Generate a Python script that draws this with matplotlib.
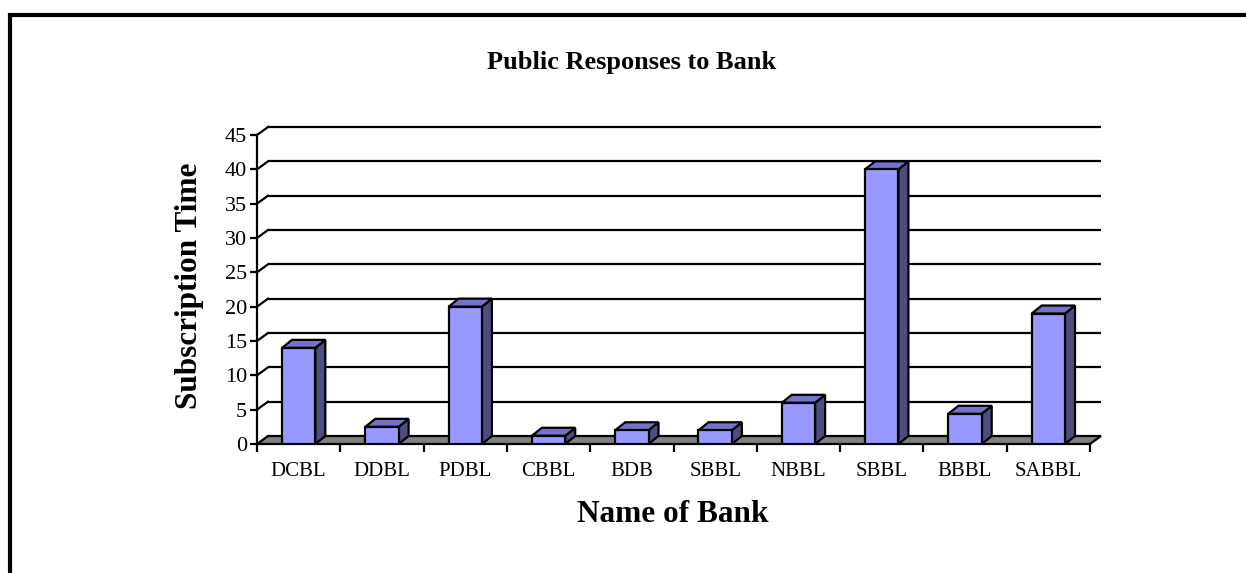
import numpy as np
import matplotlib
matplotlib.use("Agg")
import matplotlib.pyplot as plt
from matplotlib.patches import Polygon
from matplotlib.lines import Line2D

# chart data
banks = ["DCBL", "DDBL", "PDBL", "CBBL", "BDB", "SBBL", "NBBL", "SBBL", "BBBL", "SABBL"]
subscription_time = [14, 2.5, 20, 1.2, 2, 2, 6, 40, 4.4, 19]
y_ticks = [0, 5, 10, 15, 20, 25, 30, 35, 40, 45]

plt.rcParams['font.family'] = ['Liberation Serif', 'DejaVu Serif']

W, H = 1246, 573
fig = plt.figure(figsize=(W / 100, H / 100), dpi=100)

# plot area (front plane), pixel coords
x0, x1 = 257, 1090
y0, y1 = 444, 135
ax = fig.add_axes([x0 / W, 1 - y0 / H, (x1 - x0) / W, (y0 - y1) / H])
n = len(banks)
ax.set_xlim(0, n)
ax.set_ylim(0, 45)

# 3d depth offsets in data units
px_x = n / (x1 - x0)
px_y = 45 / (y0 - y1)
dx, dy = 11 * px_x, 8 * px_y
bdx, bdy = 10 * px_x, 8 * px_y

# back wall grid lines + side wall diagonals
for t in y_ticks[1:]:
    ax.plot([dx, n + dx], [t + dy, t + dy], color="black", lw=1.6,
            clip_on=False, zorder=1, solid_capstyle="butt")
    ax.plot([0, dx], [t, t + dy], color="black", lw=1.6,
            clip_on=False, zorder=1)

# floor
floor = Polygon([(0, 0), (n, 0), (n + dx, dy), (dx, dy)], closed=True,
                facecolor="#808080", edgecolor="black", lw=1.6,
                clip_on=False, zorder=2)
ax.add_patch(floor)

# bars
xs = np.arange(n) + 0.5
w = 0.4
ax.bar(xs, subscription_time, width=w, color="#9999FF", edgecolor="black",
       lw=1.6, zorder=4)
for x, v in zip(xs, subscription_time):
    side = Polygon([(x + w / 2, 0), (x + w / 2 + bdx, bdy),
                    (x + w / 2 + bdx, v + bdy), (x + w / 2, v)],
                   closed=True, facecolor="#4D4D80", edgecolor="black",
                   lw=1.6, clip_on=False, zorder=3)
    top = Polygon([(x - w / 2, v), (x + w / 2, v),
                   (x + w / 2 + bdx, v + bdy), (x - w / 2 + bdx, v + bdy)],
                  closed=True, facecolor="#7373CC", edgecolor="black",
                  lw=1.6, clip_on=False, zorder=3)
    ax.add_patch(side)
    ax.add_patch(top)

# axes styling
for s in ["top", "right", "bottom"]:
    ax.spines[s].set_visible(False)
ax.spines["left"].set_linewidth(1.6)
ax.spines["left"].set_zorder(5)
ax.set_facecolor("none")

ax.set_yticks(y_ticks)
ax.tick_params(axis="y", direction="out", length=5, width=1.6, pad=2,
               labelsize=16)
ax.set_xticks(xs)
ax.set_xticklabels(banks)
ax.set_xticks(np.arange(n + 1), minor=True)
ax.tick_params(axis="x", which="major", length=0, pad=13, labelsize=15)
ax.tick_params(axis="x", which="minor", direction="out", length=6, width=1.6)

# titles
fig.text(632 / W, 1 - 62 / H, "Public Responses to Bank", ha="center",
         va="center", fontsize=19, fontweight="bold")
fig.text(673 / W, 1 - 514 / H, "Name of Bank", ha="center", va="center",
         fontsize=22.5, fontweight="bold")
fig.text(190 / W, 1 - 286 / H, "Subscription Time", ha="center",
         va="center", rotation=90, fontsize=22.5, fontweight="bold")

# outer frame (left and top edges only visible)
fig.add_artist(Line2D([10 / W, 10 / W, 1.01], [-0.01, 1 - 15 / H, 1 - 15 / H],
                      color="black", lw=3, solid_joinstyle="miter",
                      transform=fig.transFigure))

fig.savefig("out.png", dpi=100)
